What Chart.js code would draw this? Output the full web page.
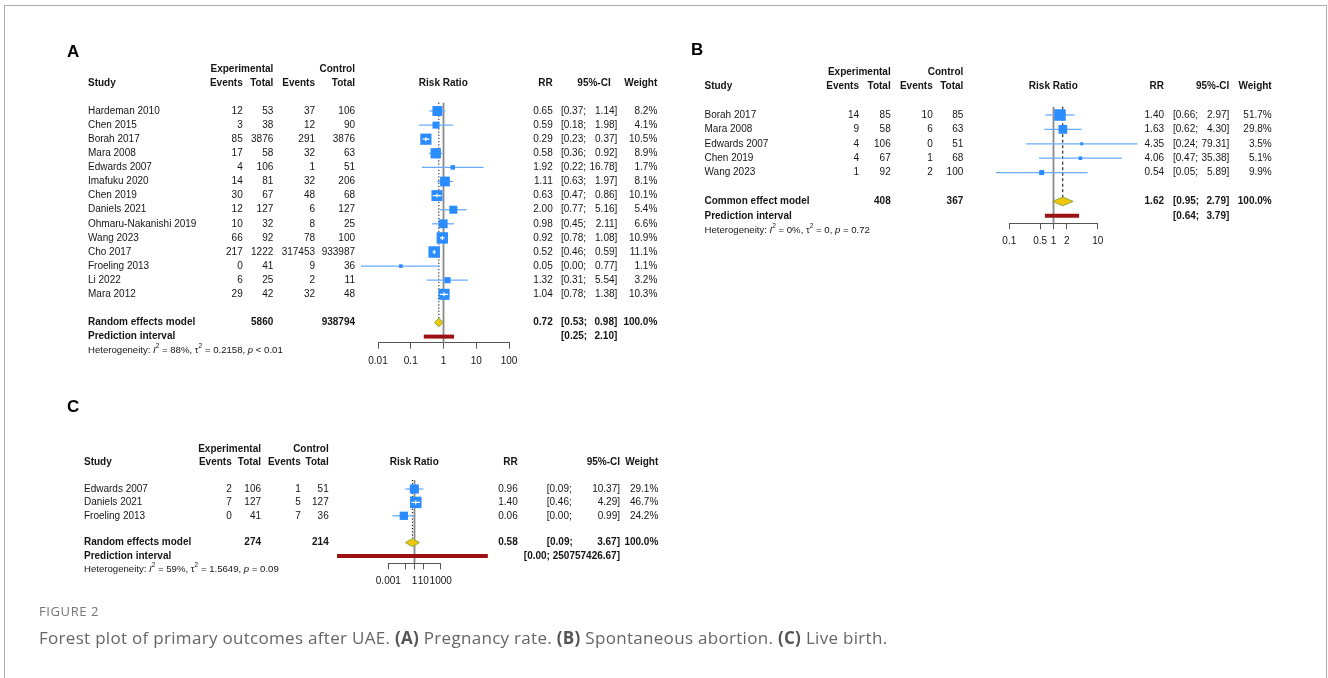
<!DOCTYPE html>
<html>
<head>
<meta charset="utf-8">
<title>Forest plot of primary outcomes after UAE</title>
<script src="https://cdn.jsdelivr.net/npm/chart.js@4.4.1/dist/chart.umd.min.js"></script>
<style>
  html, body { margin: 0; padding: 0; background: #fff; }
  #page { position: relative; width: 1328px; height: 678px; overflow: hidden; }
  #page canvas { position: absolute; left: 0; top: 0; }
  #frame { position: absolute; left: 4px; top: 5px; width: 1321px; height: 720px;
           border: 1px solid #aeaeae; border-bottom: none; }
  .fig { position: absolute; left: 39px; top: 603px; font-family: "Open Sans", "Noto Sans", sans-serif;
         font-size: 13px; line-height: 16px; color: #777; letter-spacing: 0.6px; }
  .cap { position: absolute; left: 39px; top: 627px; font-family: "Open Sans", "Noto Sans", sans-serif;
         font-size: 17px; line-height: 22px; color: #666; white-space: nowrap; letter-spacing: 0.3px; }
  .cap b { font-weight: 700; color: #555; }
</style>
</head>
<body>
<div id="page">
  <div id="frame"></div>
  <canvas id="forestA" width="1328" height="678"></canvas>
  <canvas id="forestB" width="1328" height="678"></canvas>
  <canvas id="forestC" width="1328" height="678"></canvas>
  <div class="fig">FIGURE 2</div>
  <div class="cap">Forest plot of primary outcomes after UAE. <b>(A)</b> Pregnancy rate. <b>(B)</b> Spontaneous abortion. <b>(C)</b> Live birth.</div>
</div>
<script>
// ---------- Panel A: pregnancy rate ----------
const studiesA    = ['Hardeman 2010', 'Chen 2015', 'Borah 2017', 'Mara 2008', 'Edwards 2007', 'Imafuku 2020',
                     'Chen 2019', 'Daniels 2021', 'Ohmaru-Nakanishi 2019', 'Wang 2023', 'Cho 2017',
                     'Froeling 2013', 'Li 2022', 'Mara 2012'];
const expEventsA  = [12, 3, 85, 17, 4, 14, 30, 12, 10, 66, 217, 0, 6, 29];
const expTotalA   = [53, 38, 3876, 58, 106, 81, 67, 127, 32, 92, 1222, 41, 25, 42];
const ctrlEventsA = [37, 12, 291, 32, 1, 32, 48, 6, 8, 78, 317453, 9, 2, 32];
const ctrlTotalA  = [106, 90, 3876, 63, 51, 206, 68, 127, 25, 100, 933987, 36, 11, 48];
const rrA         = [0.65, 0.59, 0.29, 0.58, 1.92, 1.11, 0.63, 2.00, 0.98, 0.92, 0.52, 0.05, 1.32, 1.04];
const lowerA      = [0.37, 0.18, 0.23, 0.36, 0.22, 0.63, 0.47, 0.77, 0.45, 0.78, 0.46, 0.003, 0.31, 0.78];
const upperA      = [1.14, 1.98, 0.37, 0.92, 16.78, 1.97, 0.86, 5.16, 2.11, 1.08, 0.59, 0.77, 5.54, 1.38];
const weightA     = [8.2, 4.1, 10.5, 8.9, 1.7, 8.1, 10.1, 5.4, 6.6, 10.9, 11.1, 1.1, 3.2, 10.3];
const pooledA     = [0.72, 0.53, 0.98];          // estimate, lower, upper
const predA       = [0.25, 2.10];
const totalsA     = [5860, 938794];
const hetA        = ['88%', '0.2158', '< 0.01']; // I², tau², p
const ticksA      = [0.01, 0.1, 1, 10, 100];
const tickLabelsA = ['0.01', '0.1', '1', '10', '100'];

// ---------- Panel B: spontaneous abortion ----------
const studiesB    = ['Borah 2017', 'Mara 2008', 'Edwards 2007', 'Chen 2019', 'Wang 2023'];
const expEventsB  = [14, 9, 4, 4, 1];
const expTotalB   = [85, 58, 106, 67, 92];
const ctrlEventsB = [10, 6, 0, 1, 2];
const ctrlTotalB  = [85, 63, 51, 68, 100];
const rrB         = [1.40, 1.63, 4.35, 4.06, 0.54];
const lowerB      = [0.66, 0.62, 0.24, 0.47, 0.05];
const upperB      = [2.97, 4.30, 79.31, 35.38, 5.89];
const weightB     = [51.7, 29.8, 3.5, 5.1, 9.9];
const pooledB     = [1.62, 0.95, 2.79];
const predB       = [0.64, 3.79];
const totalsB     = [408, 367];
const hetB        = ['0%', '0', '= 0.72'];
const ticksB      = [0.1, 0.5, 1, 2, 10];
const tickLabelsB = ['0.1', '0.5', '1', '2', '10'];

// ---------- Panel C: live birth ----------
const studiesC    = ['Edwards 2007', 'Daniels 2021', 'Froeling 2013'];
const expEventsC  = [2, 7, 0];
const expTotalC   = [106, 127, 41];
const ctrlEventsC = [1, 5, 7];
const ctrlTotalC  = [51, 127, 36];
const rrC         = [0.96, 1.40, 0.06];
const lowerC      = [0.09, 0.46, 0.003];
const upperC      = [10.37, 4.29, 0.99];
const weightC     = [29.1, 46.7, 24.2];
const pooledC     = [0.58, 0.09, 3.67];
const predC       = [1.34e-9, 250757426.67];
const totalsC     = [274, 214];
const hetC        = ['59%', '1.5649', '= 0.09'];
const ticksC      = [0.001, 0.1, 1, 10, 1000];
const tickLabelsC = ['0.001', '', '1', '10', '1000'];

const NULL_EFFECT = 1;

// ---------- drawing styles ----------
const FONT = '"Liberation Sans", Arial, Helvetica, sans-serif';
const TEXT = '#151515';
const BOX_COLOR = '#2a8cff';
const CI_COLOR = '#68acff';
const MAX_BOX = 11.5;      // side of the heaviest study's box, px
const DIAMOND_H = 0.3;     // half height of the pooled diamond, rows
const AXIS_H = 34;         // height reserved for the x axis
const W = 1328, H = 678;
const HEAD_ROWS = [-2.95, -1.97];

// page placement of each panel
const layoutA = { firstRowPx: 111, rowH: 14.1, topPx: 102.7, axisPx: 342.7, plotLeft: 378, plotRight: 509,
  letterX: 67, letterY: 52, studyX: 88, cols: [242.7, 273.3, 315, 355], rrHeadX: 443.3,
  rrX: 552.7, ciL: 561, ciR: 617.3, ciHead: 610.7, wX: 657.3, pooledRow: 15, predRow: 16, hetRow: 17,
  tickPad: 7, hetSize: 9.6 };
const layoutB = { firstRowPx: 115, rowH: 14.4, topPx: 106.7, axisPx: 223.3, plotLeft: 1009.3, plotRight: 1097.7,
  letterX: 691, letterY: 50, studyX: 704.5, cols: [859, 890.7, 932.7, 963.3], rrHeadX: 1053.3,
  rrX: 1164, ciL: 1173, ciR: 1229.3, ciHead: 1229.3, wX: 1271.7, pooledRow: 6, predRow: 7, hetRow: 8,
  tickPad: 6.4, hetSize: 9.6 };
const layoutC = { firstRowPx: 489, rowH: 13.4, topPx: 480, axisPx: 563.3, plotLeft: 388.3, plotRight: 440.7,
  letterX: 67, letterY: 407, studyX: 84, cols: [231.7, 261, 300.7, 328.7], rrHeadX: 414.3,
  rrX: 517.7, ciL: 546.7, ciR: 620, ciHead: 620, wX: 658.3, pooledRow: 4, predRow: 5, hetRow: 6,
  tickPad: 5.7, hetSize: 9.6 };

const panelA = { label: 'A', model: 'Random effects model', dash: [1.2, 2], studies: studiesA,
  expEvents: expEventsA, expTotal: expTotalA, ctrlEvents: ctrlEventsA, ctrlTotal: ctrlTotalA,
  rr: rrA, lower: lowerA, upper: upperA, weight: weightA, pooled: pooledA, pred: predA,
  totals: totalsA, het: hetA, ticks: ticksA, tickLabels: tickLabelsA };
const panelB = { label: 'B', model: 'Common effect model', dash: [3, 2.5], studies: studiesB,
  expEvents: expEventsB, expTotal: expTotalB, ctrlEvents: ctrlEventsB, ctrlTotal: ctrlTotalB,
  rr: rrB, lower: lowerB, upper: upperB, weight: weightB, pooled: pooledB, pred: predB,
  totals: totalsB, het: hetB, ticks: ticksB, tickLabels: tickLabelsB };
const panelC = { label: 'C', model: 'Random effects model', dash: [1.2, 2], studies: studiesC,
  expEvents: expEventsC, expTotal: expTotalC, ctrlEvents: ctrlEventsC, ctrlTotal: ctrlTotalC,
  rr: rrC, lower: lowerC, upper: upperC, weight: weightC, pooled: pooledC, pred: predC,
  totals: totalsC, het: hetC, ticks: ticksC, tickLabels: tickLabelsC };

// Study table, headers, pooled rows and heterogeneity line, placed on the y scale's rows
function tablePlugin(d, L) {
  return {
    id: 'table' + d.label,
    afterDraw(chart) {
      const ctx = chart.ctx;
      const ys = chart.scales.y;
      const py = r => ys.getPixelForValue(r);
      const setFont = (bold, size) => { ctx.font = (bold ? 'bold ' : '') + (size || 10) + 'px ' + FONT; };
      const put = (s, x, r, align, bold) => {
        setFont(bold); ctx.textAlign = align; ctx.fillStyle = TEXT; ctx.fillText(s, x, py(r));
      };
      const ci = (lo, hi, r, bold) => {
        const a = '[' + lo.toFixed(2) + ';', b = hi.toFixed(2) + ']';
        setFont(bold);
        const full = a + ' ' + b;
        if (ctx.measureText(full).width > L.ciR - L.ciL) {
          put(full, L.ciR, r, 'right', bold);
        } else {
          put(a, L.ciL, r, 'left', bold);
          put(b, L.ciR, r, 'right', bold);
        }
      };
      ctx.save();
      ctx.textBaseline = 'middle';

      // panel letter
      ctx.font = 'bold 17px ' + FONT; ctx.textAlign = 'left'; ctx.fillStyle = '#000';
      ctx.fillText(d.label, L.letterX, L.letterY);

      // column headers
      put('Experimental', L.cols[1], HEAD_ROWS[0], 'right', true);
      put('Control', L.cols[3], HEAD_ROWS[0], 'right', true);
      put('Study', L.studyX, HEAD_ROWS[1], 'left', true);
      put('Events', L.cols[0], HEAD_ROWS[1], 'right', true);
      put('Total', L.cols[1], HEAD_ROWS[1], 'right', true);
      put('Events', L.cols[2], HEAD_ROWS[1], 'right', true);
      put('Total', L.cols[3], HEAD_ROWS[1], 'right', true);
      put('Risk Ratio', L.rrHeadX, HEAD_ROWS[1], 'center', true);
      put('RR', L.rrX, HEAD_ROWS[1], 'right', true);
      put('95%-CI', L.ciHead, HEAD_ROWS[1], 'right', true);
      put('Weight', L.wX, HEAD_ROWS[1], 'right', true);

      // one row per study
      d.studies.forEach((s, i) => {
        put(s, L.studyX, i, 'left');
        put(String(d.expEvents[i]), L.cols[0], i, 'right');
        put(String(d.expTotal[i]), L.cols[1], i, 'right');
        put(String(d.ctrlEvents[i]), L.cols[2], i, 'right');
        put(String(d.ctrlTotal[i]), L.cols[3], i, 'right');
        put(d.rr[i].toFixed(2), L.rrX, i, 'right');
        ci(d.lower[i], d.upper[i], i, false);
        put(d.weight[i].toFixed(1) + '%', L.wX, i, 'right');
      });

      // pooled estimate and prediction interval
      put(d.model, L.studyX, L.pooledRow, 'left', true);
      put(String(d.totals[0]), L.cols[1], L.pooledRow, 'right', true);
      put(String(d.totals[1]), L.cols[3], L.pooledRow, 'right', true);
      put(d.pooled[0].toFixed(2), L.rrX, L.pooledRow, 'right', true);
      ci(d.pooled[1], d.pooled[2], L.pooledRow, true);
      put('100.0%', L.wX, L.pooledRow, 'right', true);
      put('Prediction interval', L.studyX, L.predRow, 'left', true);
      ci(d.pred[0], d.pred[1], L.predRow, true);

      // heterogeneity statistics
      const parts = [['Heterogeneity: ', 'n'], ['I', 'i'], ['2', 's'], [' = ' + d.het[0] + ', \u03C4', 'n'],
                     ['2', 's'], [' = ' + d.het[1] + ', ', 'n'], ['p', 'i'], [' ' + d.het[2], 'n']];
      let cx = L.studyX;
      const hy = py(L.hetRow);
      ctx.textAlign = 'left'; ctx.fillStyle = TEXT;
      parts.forEach(([t, k]) => {
        const size = k === 's' ? 6.5 : L.hetSize;
        ctx.font = (k === 'i' ? 'italic ' : '') + size + 'px ' + FONT;
        ctx.fillText(t, cx, k === 's' ? hy - 4 : hy);
        cx += ctx.measureText(t).width;
      });
      ctx.restore();
    }
  };
}

// A confidence interval lying fully inside its box is redrawn in white over the box
function insideCiPlugin(d, side) {
  return {
    id: 'inside' + d.label,
    afterDatasetsDraw(chart) {
      const xs = chart.scales.x, ys = chart.scales.y, ctx = chart.ctx;
      ctx.save();
      ctx.strokeStyle = '#fff';
      ctx.lineWidth = 1.2;
      d.rr.forEach((v, i) => {
        const cx = xs.getPixelForValue(v), half = side(d.weight[i]) / 2;
        const a = xs.getPixelForValue(d.lower[i]), b = xs.getPixelForValue(d.upper[i]);
        const y = ys.getPixelForValue(i);
        if (a >= cx - half && b <= cx + half) {
          ctx.beginPath();
          ctx.moveTo(a, y); ctx.lineTo(b, y);
          ctx.moveTo(cx, y - 2); ctx.lineTo(cx, y + 2);
          ctx.stroke();
        }
      });
      ctx.restore();
    }
  };
}

function buildForest(canvasId, d, L) {
  const yMin = (L.topPx - L.firstRowPx) / L.rowH;
  const yMax = (L.axisPx - L.firstRowPx) / L.rowH;
  const wMax = Math.max(...d.weight);
  const side = w => MAX_BOX * Math.sqrt(w / wMax);
  const seg = { showLine: true, pointRadius: 0, borderCapStyle: 'butt', clip: false, tension: 0 };
  const datasets = [];

  // line of no effect
  datasets.push(Object.assign({}, seg, {
    data: [{ x: NULL_EFFECT, y: yMin }, { x: NULL_EFFECT, y: yMax }],
    borderColor: '#8a8a8a', borderWidth: 1.8, order: 6 }));
  // pooled estimate line down to the diamond
  datasets.push(Object.assign({}, seg, {
    data: [{ x: d.pooled[0], y: yMin }, { x: d.pooled[0], y: L.pooledRow - DIAMOND_H }],
    borderColor: '#000', borderWidth: 1, borderDash: d.dash, order: 5 }));
  // study confidence intervals
  d.rr.forEach((v, i) => {
    datasets.push(Object.assign({}, seg, {
      data: [{ x: d.lower[i], y: i }, { x: d.upper[i], y: i }],
      borderColor: CI_COLOR, borderWidth: 1.3, order: 3 }));
  });
  // study boxes, area proportional to weight
  datasets.push({
    data: d.rr.map((v, i) => ({ x: v, y: i })),
    showLine: false, pointStyle: 'rect', clip: false,
    pointRadius: c => side(d.weight[c.dataIndex]) / Math.SQRT2,
    pointBackgroundColor: BOX_COLOR, pointBorderWidth: 0, order: 1 });
  // pooled diamond
  const r = L.pooledRow;
  datasets.push(Object.assign({}, seg, {
    data: [{ x: d.pooled[1], y: r }, { x: d.pooled[0], y: r - DIAMOND_H }, { x: d.pooled[2], y: r },
           { x: d.pooled[0], y: r + DIAMOND_H }, { x: d.pooled[1], y: r }],
    fill: 'shape', backgroundColor: '#f0c70a', borderColor: '#8aab3c', borderWidth: 1, order: 2 }));
  // prediction interval bar
  datasets.push(Object.assign({}, seg, {
    data: [{ x: d.pred[0], y: L.predRow }, { x: d.pred[1], y: L.predRow }],
    borderColor: '#9c1212', borderWidth: 4, order: 2 }));

  return new Chart(document.getElementById(canvasId), {
    type: 'scatter',
    data: { datasets },
    options: {
      responsive: false, animation: false, events: [],
      layout: { autoPadding: false,
        padding: { left: L.plotLeft, right: W - L.plotRight, top: L.topPx, bottom: H - L.axisPx - AXIS_H } },
      plugins: { legend: { display: false }, tooltip: { enabled: false } },
      scales: {
        x: {
          type: 'logarithmic', position: 'bottom',
          min: d.ticks[0], max: d.ticks[d.ticks.length - 1],
          afterBuildTicks: s => { s.ticks = d.ticks.map(v => ({ value: v })); },
          afterFit: s => { s.height = AXIS_H; },
          grid: { display: true, drawOnChartArea: false, drawTicks: true, tickLength: 6, color: '#555', lineWidth: 1 },
          border: { display: true, color: '#555', width: 1 },
          ticks: { autoSkip: false, maxRotation: 0, minRotation: 0, padding: L.tickPad, color: TEXT,
                   font: { family: FONT, size: 10 }, callback: (v, i) => d.tickLabels[i] }
        },
        y: { type: 'linear', display: false, reverse: true, min: yMin, max: yMax }
      }
    },
    plugins: [tablePlugin(d, L), insideCiPlugin(d, side)]
  });
}

buildForest('forestA', panelA, layoutA);
buildForest('forestB', panelB, layoutB);
buildForest('forestC', panelC, layoutC);
</script>
</body>
</html>
